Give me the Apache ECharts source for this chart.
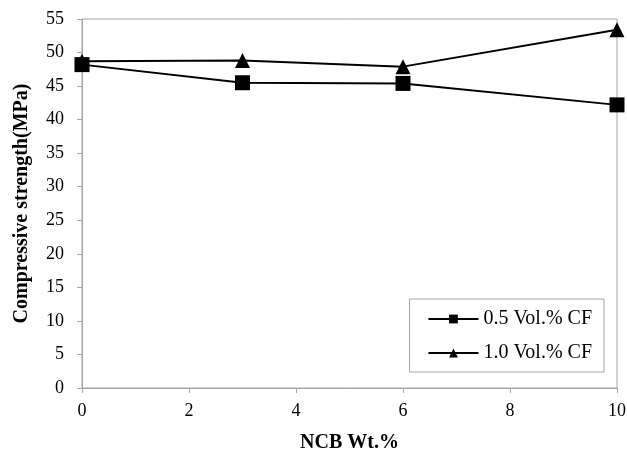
<!DOCTYPE html>
<html>
<head>
<meta charset="utf-8">
<script src="https://cdn.jsdelivr.net/npm/echarts@6/dist/echarts.min.js"></script>
<style>
  html, body { margin: 0; padding: 0; background: #fff; }
  #chart { width: 627px; height: 452px; }
</style>
</head>
<body>
<div id="chart"></div>
<script>
// NCB content (wt.%)
const ncb = [0, 3, 6, 10];
const cf05 = [48.2, 45.5, 45.4, 42.2];
const cf10 = [48.7, 48.8, 47.9, 53.4];
const names = ['0.5 Vol.% CF', '1.0 Vol.% CF'];

const font = 'Liberation Serif';
const grey = '#a6a6a6';

const chart = echarts.init(document.getElementById('chart'));

const option = {
  animation: false,
  textStyle: { fontFamily: font },
  grid: {
    left: 82, right: 10, top: 19, bottom: 64,
    outerBoundsMode: 'none',
    containLabel: false,
    show: true, borderColor: grey, borderWidth: 1
  },
  legend: {
    data: [names[0], names[1]],
    orient: 'vertical',
    right: 23, top: 299,
    itemWidth: 50, itemHeight: 11,
    itemGap: 14,
    padding: [10, 12, 9, 18],
    borderColor: grey, borderWidth: 1,
    textStyle: { fontFamily: font, fontSize: 20, color: '#000' }
  },
  xAxis: {
    type: 'value',
    min: 0, max: 10, interval: 2,
    name: 'NCB Wt.%',
    nameLocation: 'middle',
    nameGap: 45,
    nameTextStyle: { fontFamily: font, fontWeight: 'bold', fontSize: 20, color: '#000' },
    axisLine: { lineStyle: { color: grey } },
    axisTick: { show: true, inside: false, length: 5, lineStyle: { color: grey } },
    axisLabel: { fontFamily: font, fontSize: 18, color: '#000', margin: 14 },
    splitLine: { show: false }
  },
  yAxis: {
    type: 'value',
    min: 0, max: 55, interval: 5,
    name: 'Compressive strength(MPa)',
    nameLocation: 'middle',
    nameGap: 50,
    nameTextStyle: { fontFamily: font, fontWeight: 'bold', fontSize: 20, color: '#000' },
    axisLine: { show: true, lineStyle: { color: grey } },
    axisTick: { show: true, length: 5, lineStyle: { color: grey } },
    axisLabel: { fontFamily: font, fontSize: 18, color: '#000', margin: 18 },
    splitLine: { show: false }
  },
  series: [
    {
      name: names[1],
      type: 'line',
      data: ncb.map((x, i) => [x, cf10[i]]),
      symbol: 'triangle',
      symbolSize: 15,
      lineStyle: { color: '#000', width: 2 },
      itemStyle: { color: '#000' }
    },
    {
      name: names[0],
      type: 'line',
      data: ncb.map((x, i) => [x, cf05[i]]),
      symbol: 'rect',
      symbolSize: 15,
      lineStyle: { color: '#000', width: 2 },
      itemStyle: { color: '#000' }
    }
  ]
};

chart.setOption(option);
</script>
</body>
</html>
